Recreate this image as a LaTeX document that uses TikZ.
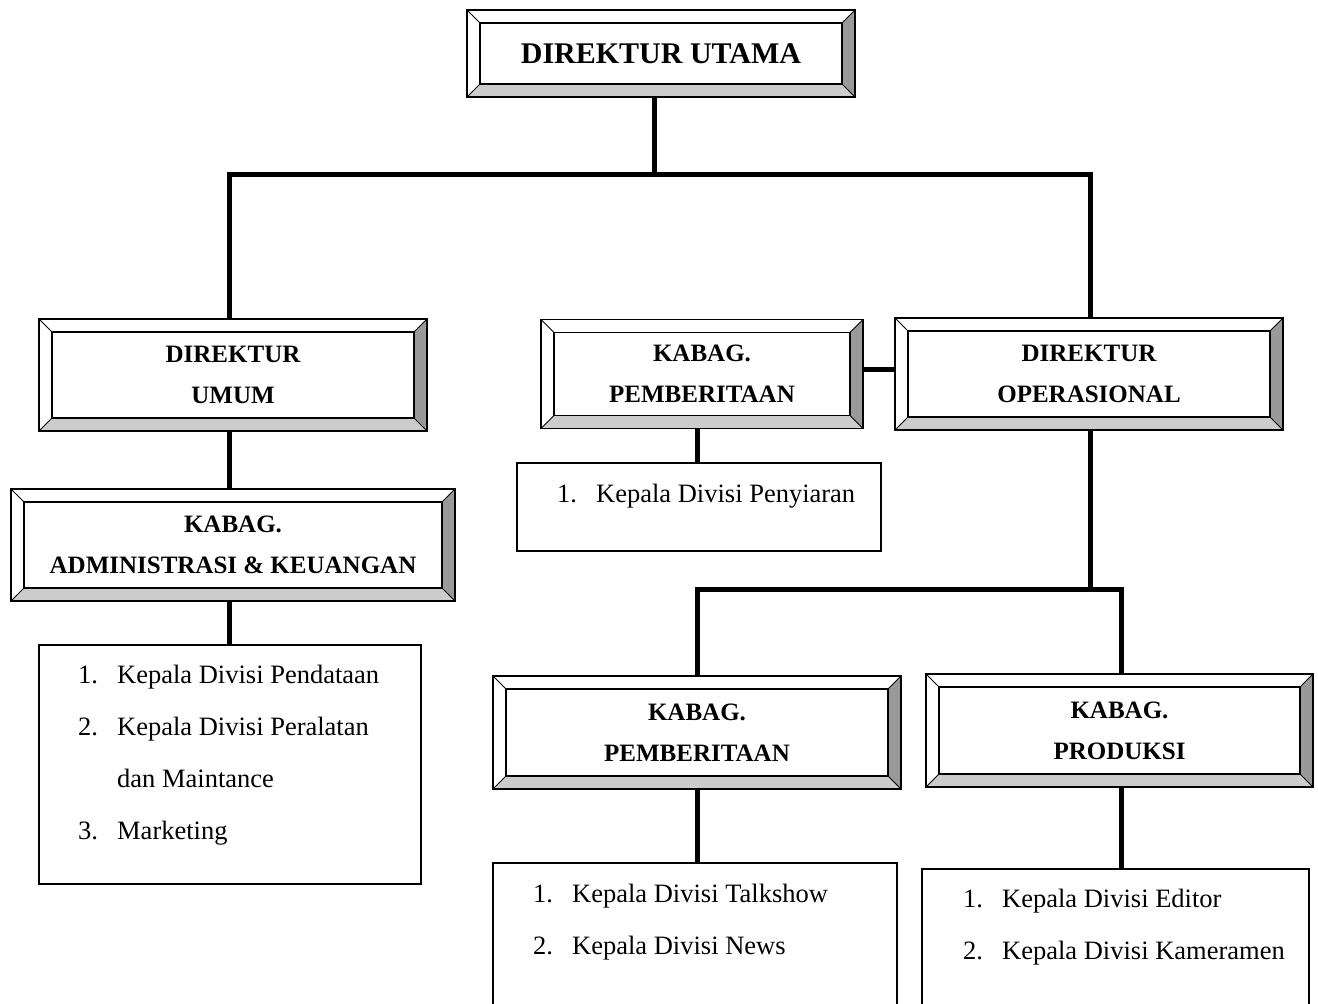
\documentclass[tikz,border=0pt]{standalone}
\usepackage{fontspec}
\setmainfont{Liberation Serif}
\usetikzlibrary{calc}

\newcommand{\bv}{13pt}
\newcommand{\bevelpanels}{%
  \coordinate (bo1) at (path picture bounding box.north west);
  \coordinate (bo2) at (path picture bounding box.north east);
  \coordinate (bo3) at (path picture bounding box.south east);
  \coordinate (bo4) at (path picture bounding box.south west);
  \coordinate (bi1) at ($(bo1)+(\bv,-\bv)$);
  \coordinate (bi2) at ($(bo2)+(-\bv,-\bv)$);
  \coordinate (bi3) at ($(bo3)+(-\bv,\bv)$);
  \coordinate (bi4) at ($(bo4)+(\bv,\bv)$);
  \fill[gray!80] (bo2) -- (bo3) -- (bi3) -- (bi2) -- cycle;
  \fill[gray!40] (bo3) -- (bo4) -- (bi4) -- (bi3) -- cycle;
  \draw[line width=1pt] (bo1) -- (bi1) (bo2) -- (bi2) (bo3) -- (bi3) (bo4) -- (bi4);
  \draw[line width=1.6pt] (bi1) rectangle (bi3);
}

\tikzstyle{bevel} = [rectangle, draw, line width=1.8pt, fill=white, align=center, inner sep=0pt,
    font=\fontsize{25}{41}\selectfont\bfseries, path picture={\bevelpanels}]
\tikzstyle{listbox} = [rectangle, draw, line width=1.6pt, fill=white]
\tikzstyle{listtext} = [anchor=base west, inner sep=0pt, font=\fontsize{26.5}{52}\selectfont]
\tikzstyle{line} = [draw, line width=5pt, line join=miter]

\newcommand{\items}[1]{\begin{tabular}[t]{@{}p{39pt}@{}l@{}}#1\end{tabular}}

\begin{document}
\begin{tikzpicture}[x=1pt, y=-1pt]
    \useasboundingbox (0,0) rectangle (1318,1004);
    \clip (0,0) rectangle (1318,1004);

    % Place nodes
    \node [bevel, minimum width=388pt, minimum height=87pt, font=\fontsize{30}{36}\selectfont\bfseries] (utama) at (661,53.5) {DIREKTUR UTAMA};

    \node [bevel, minimum width=388pt, minimum height=112pt] (umum) at (233,375) {DIREKTUR\\UMUM};
    \node [bevel, minimum width=444pt, minimum height=112pt] (admin) at (233,545) {KABAG.\\ADMINISTRASI \& KEUANGAN};
    \node [listbox, minimum width=382pt, minimum height=239pt] (listadm) at (230,764.5) {};

    \node [bevel, minimum width=322pt, minimum height=109pt] (berita1) at (702,374) {KABAG.\\PEMBERITAAN};
    \node [listbox, minimum width=364pt, minimum height=88pt] (listpeny) at (699,507) {};

    \node [bevel, minimum width=388pt, minimum height=112pt] (ops) at (1089,374) {DIREKTUR\\OPERASIONAL};

    \node [bevel, minimum width=408pt, minimum height=113pt] (berita2) at (697,732.5) {KABAG.\\PEMBERITAAN};
    \node [bevel, minimum width=387pt, minimum height=113pt] (produksi) at (1119.5,730.5) {KABAG.\\PRODUKSI};
    \node [listbox, minimum width=404pt, minimum height=166pt] (listberita) at (695,946) {};
    \node [listbox, minimum width=387pt, minimum height=161pt] (listprod) at (1115.5,949.5) {};

    % List texts
    \node [listtext] (tadm) at (78,683) {\items{1. & Kepala Divisi Pendataan\\ 2. & Kepala Divisi Peralatan\\ & dan Maintance\\ 3. & Marketing}};
    \node [listtext] (tpeny) at (557,502) {\items{1. & Kepala Divisi Penyiaran}};
    \node [listtext] (tberita) at (533,902) {\items{1. & Kepala Divisi Talkshow\\ 2. & Kepala Divisi News}};
    \node [listtext] (tprod) at (963,907) {\items{1. & Kepala Divisi Editor\\ 2. & Kepala Divisi Kameramen}};

    % Draw edges
    \coordinate (jTop) at (654,174);
    \coordinate (jL) at (229,174);
    \coordinate (jR) at (1090,174);
    \coordinate (jP) at (697,0);
    \coordinate (jM) at (0,369);
    \coordinate (jOps) at (1090,589);
    \coordinate (jB) at (697,589);
    \coordinate (jPr) at (1121,589);

    \path [line] (utama.south -| jTop) -- (jTop);
    \path [line] (umum.north -| jL) -- (jL) -- (jR) -- (ops.north -| jR);
    \path [line] (umum.south -| jL) -- (admin.north -| jL);
    \path [line] (admin.south -| jL) -- (listadm.north -| jL);
    \path [line] (berita1.east |- jM) -- (ops.west |- jM);
    \path [line] (berita1.south -| jP) -- (listpeny.north -| jP);
    \path [line] (ops.south -| jOps) -- (jOps);
    \path [line] (berita2.north -| jB) -- (jB) -- (jPr) -- (produksi.north -| jPr);
    \path [line] (berita2.south -| jB) -- (listberita.north -| jB);
    \path [line] (produksi.south -| jPr) -- (listprod.north -| jPr);

\end{tikzpicture}
\end{document}
